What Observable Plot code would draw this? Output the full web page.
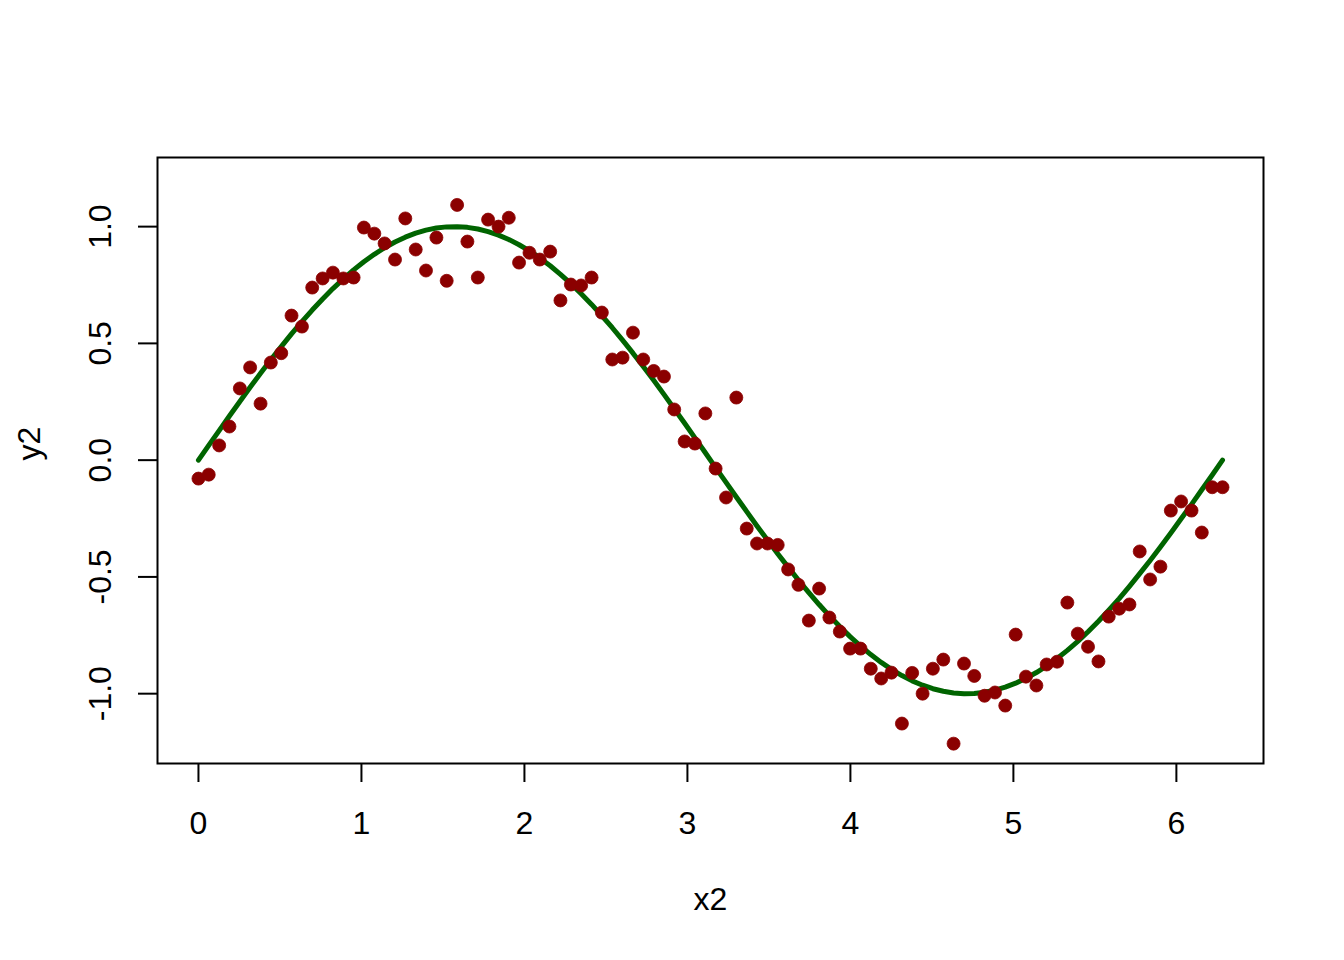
<!DOCTYPE html>
<html><head><meta charset="utf-8">
<script src="https://cdn.jsdelivr.net/npm/d3@7"></script>
<script src="https://cdn.jsdelivr.net/npm/@observablehq/plot@0.6"></script>
<style>body{margin:0;background:#fff} #chart svg{display:block}</style>
</head><body><div id="chart"></div>
<script>
const x2 = [
  0.000, 0.063, 0.127, 0.190, 0.254, 0.317, 0.381, 0.444, 0.508, 0.571,
  0.635, 0.698, 0.762, 0.825, 0.889, 0.952, 1.015, 1.079, 1.142, 1.206,
  1.269, 1.333, 1.396, 1.460, 1.523, 1.587, 1.650, 1.714, 1.777, 1.841,
  1.904, 1.967, 2.031, 2.094, 2.158, 2.221, 2.285, 2.348, 2.412, 2.475,
  2.539, 2.602, 2.666, 2.729, 2.793, 2.856, 2.919, 2.983, 3.046, 3.110,
  3.173, 3.237, 3.300, 3.364, 3.427, 3.491, 3.554, 3.618, 3.681, 3.745,
  3.808, 3.871, 3.935, 3.998, 4.062, 4.125, 4.189, 4.252, 4.316, 4.379,
  4.443, 4.506, 4.570, 4.633, 4.697, 4.760, 4.823, 4.887, 4.950, 5.014,
  5.077, 5.141, 5.204, 5.268, 5.331, 5.395, 5.458, 5.522, 5.585, 5.649,
  5.712, 5.775, 5.839, 5.902, 5.966, 6.029, 6.093, 6.156, 6.220, 6.283
];
const y2 = [
  -0.079, -0.062, 0.063, 0.144, 0.307, 0.397, 0.242, 0.418, 0.458, 0.619,
  0.572, 0.739, 0.778, 0.803, 0.778, 0.782, 0.996, 0.970, 0.928, 0.859,
  1.035, 0.902, 0.812, 0.953, 0.768, 1.093, 0.936, 0.782, 1.030, 1.000,
  1.038, 0.846, 0.888, 0.859, 0.893, 0.684, 0.752, 0.748, 0.782, 0.632,
  0.431, 0.439, 0.546, 0.431, 0.382, 0.358, 0.217, 0.080, 0.071, 0.200,
  -0.036, -0.160, 0.268, -0.293, -0.357, -0.357, -0.363, -0.468, -0.534, -0.687,
  -0.550, -0.674, -0.734, -0.807, -0.807, -0.893, -0.935, -0.910, -1.128, -0.911,
  -1.000, -0.893, -0.854, -1.214, -0.871, -0.924, -1.009, -0.995, -1.051, -0.747,
  -0.927, -0.965, -0.875, -0.863, -0.610, -0.743, -0.799, -0.862, -0.670, -0.636,
  -0.618, -0.391, -0.511, -0.456, -0.216, -0.177, -0.216, -0.310, -0.116, -0.116
];
const curveY = [
  0.0000, 0.0634, 0.1266, 0.1893, 0.2511, 0.3120, 0.3717, 0.4298, 0.4862, 0.5406,
  0.5929, 0.6428, 0.6901, 0.7346, 0.7761, 0.8146, 0.8497, 0.8815, 0.9096, 0.9341,
  0.9549, 0.9718, 0.9848, 0.9938, 0.9989, 0.9999, 0.9969, 0.9898, 0.9788, 0.9638,
  0.9450, 0.9224, 0.8960, 0.8660, 0.8326, 0.7958, 0.7557, 0.7127, 0.6668, 0.6182,
  0.5671, 0.5137, 0.4582, 0.4009, 0.3420, 0.2817, 0.2203, 0.1580, 0.0951, 0.0317,
  -0.0317, -0.0951, -0.1580, -0.2203, -0.2817, -0.3420, -0.4009, -0.4582, -0.5137, -0.5671,
  -0.6182, -0.6668, -0.7127, -0.7557, -0.7958, -0.8326, -0.8660, -0.8960, -0.9224, -0.9450,
  -0.9638, -0.9788, -0.9898, -0.9969, -0.9999, -0.9989, -0.9938, -0.9848, -0.9718, -0.9549,
  -0.9341, -0.9096, -0.8815, -0.8497, -0.8146, -0.7761, -0.7346, -0.6901, -0.6428, -0.5929,
  -0.5406, -0.4862, -0.4298, -0.3717, -0.3120, -0.2511, -0.1893, -0.1266, -0.0634, 0.0000
];
const xTicks = [0, 1, 2, 3, 4, 5, 6];
const yTicks = [-1.0, -0.5, 0.0, 0.5, 1.0];
const xLabel = "x2";
const yLabel = "y2";

const points = x2.map((x, i) => ({x, y: y2[i]}));
const line = x2.map((x, i) => ({x, y: curveY[i]}));
const font = "'Liberation Sans', Arial, sans-serif";

const chart = Plot.plot({
  width: 1344, height: 960,
  marginLeft: 157, marginRight: 81, marginTop: 157, marginBottom: 197,
  style: {fontFamily: font, background: "white", color: "black"},
  x: {domain: [-0.2513, 6.5345]},
  y: {domain: [-1.299, 1.296]},
  marks: [
    Plot.axisX({ticks: xTicks, tickSize: 19, tickPadding: 29, fontSize: 32, strokeWidth: 2, label: null, tickFormat: d => String(d)}),
    Plot.axisY({ticks: yTicks, tickSize: 19, tickPadding: 28, fontSize: 32, strokeWidth: 2, tickRotate: -90, textAnchor: "middle", label: null, tickFormat: d => d.toFixed(1)}),
    Plot.frame({stroke: "black", strokeWidth: 2}),
    Plot.text([xLabel], {frameAnchor: "bottom", dy: 146, fontSize: 32, text: d => d}),
    Plot.text([yLabel], {frameAnchor: "left", dx: -128, rotate: -90, fontSize: 32, text: d => d}),
    Plot.line(line, {x: "x", y: "y", stroke: "#006400", strokeWidth: 5}),
    Plot.dot(points, {x: "x", y: "y", r: 6.5, fill: "#8B0000", stroke: "#8B0000", strokeWidth: 0.8})
  ]
});
document.getElementById("chart").appendChild(chart);
</script>
</body></html>
